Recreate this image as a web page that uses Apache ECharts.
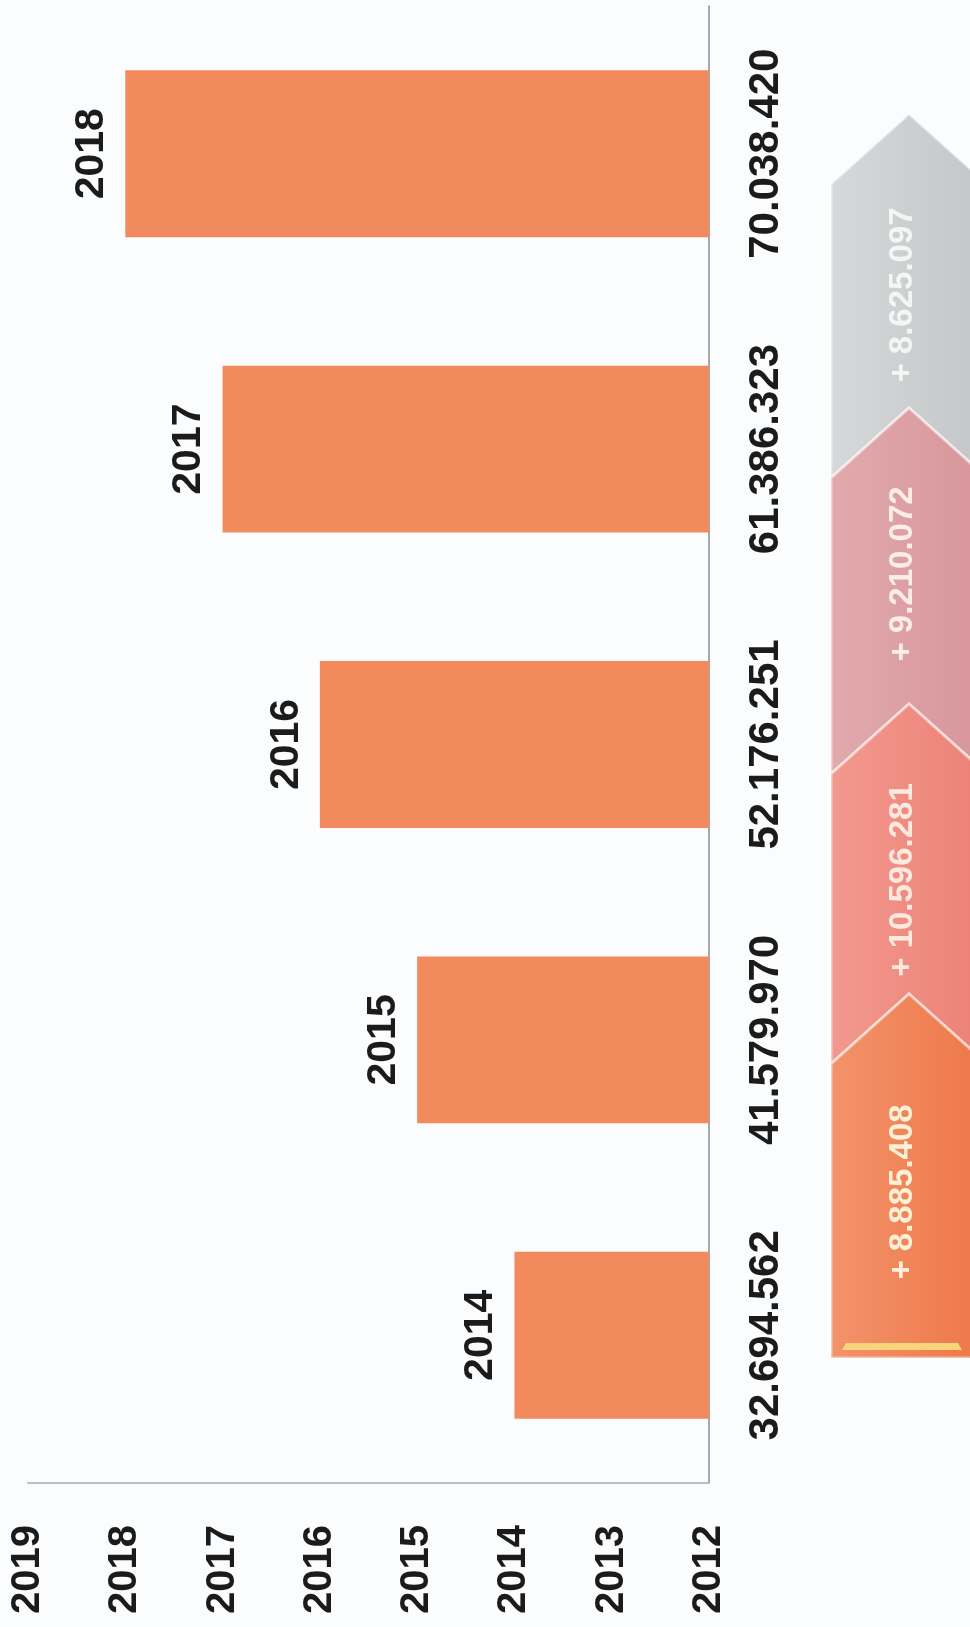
<!DOCTYPE html>
<html>
<head>
<meta charset="utf-8">
<script src="https://cdn.jsdelivr.net/npm/echarts@6/dist/echarts.min.js"></script>
<style>
html,body{margin:0;padding:0;background:#fbfcfd;}
#c{width:970px;height:1627px;}
</style>
</head>
<body>
<div id="c"></div>
<script>
// ---- data ----
var categories = ['2014', '2015', '2016', '2017', '2018'];
var barValues = [2014, 2015, 2016, 2017, 2018];
var amounts = ['32.694.562', '41.579.970', '52.176.251', '61.386.323', '70.038.420'];
var axisTicks = [2012, 2013, 2014, 2015, 2016, 2017, 2018, 2019];
// increments shown in the chevrons, top to bottom
var increments = ['+ 8.625.097', '+ 9.210.072', '+ 10.596.281', '+ 8.885.408'];

var chart = echarts.init(document.getElementById('c'), null, {renderer: 'canvas'});

// ---- chevrons (decoration) ----
var cx = 909, hw = 78, d = 70;
var tips = [114, 408, 704, 994];
var bottomY = 1358;
var fills = [
  ['#d6d8d9', '#c3c5c7'],
  ['#e2aaad', '#d6959a'],
  ['#f3998f', '#ec8075'],
  ['#f3936c', '#ee7646']
];
var textCols = ['#f4f6f6', '#fbeee6', '#fde9de', '#fff0d6'];
var textY = [295, 574, 880, 1192];
var graphics = [];
for (var i = 0; i < tips.length; i++) {
  var t = tips[i];
  var pts;
  if (i < tips.length - 1) {
    var n = tips[i + 1];
    pts = [[cx, t], [cx + hw, t + d], [cx + hw, n + d], [cx, n], [cx - hw, n + d], [cx - hw, t + d]];
  } else {
    pts = [[cx, t], [cx + hw, t + d], [cx + hw, bottomY], [cx - hw, bottomY], [cx - hw, t + d]];
  }
  graphics.push({
    type: 'polygon', z: 10,
    shape: {points: pts},
    style: {
      fill: new echarts.graphic.LinearGradient(0, 0, 1, 0, [
        {offset: 0, color: fills[i][0]}, {offset: 1, color: fills[i][1]}
      ]),
      stroke: 'rgba(255,255,255,0.5)', lineWidth: 3
    }
  });
  graphics.push({
    type: 'text', z: 12,
    x: 903, y: textY[i], rotation: Math.PI / 2,
    style: {
      text: increments[i], fill: textCols[i],
      font: 'bold 33px "Liberation Sans", Arial, sans-serif',
      align: 'center', verticalAlign: 'middle'
    }
  });
}
graphics.push({
  type: 'polygon', z: 13,
  shape: {points: [[846, 1343], [958, 1343], [962, 1350], [842, 1350]]},
  style: {fill: '#f8d47a'}
});

var option = {
  backgroundColor: '#fbfcfd',
  animation: false,
  grid: {left: 28, right: 261, top: 6, bottom: 144, containLabel: false},
  xAxis: {
    type: 'value', inverse: true, min: 2012, max: 2019, interval: 1,
    axisLine: {show: true, lineStyle: {color: '#bdbdbd', width: 2}},
    axisTick: {show: false},
    splitLine: {show: false},
    axisLabel: {
      rotate: 90, margin: 42, color: '#1b1b1b',
      fontSize: 40, fontWeight: 'bold', fontFamily: '"Liberation Sans", Arial, sans-serif',
      formatter: function (v) { return axisTicks.indexOf(v) >= 0 ? String(v) : ''; }
    }
  },
  yAxis: {
    type: 'category', data: categories, position: 'right',
    axisLine: {show: true, onZero: false, lineStyle: {color: '#8c8c8c', width: 1.5}},
    axisTick: {show: false},
    axisLabel: {
      rotate: 90, margin: 36, color: '#1b1b1b',
      fontSize: 42, fontWeight: 'bold', fontFamily: '"Liberation Sans", Arial, sans-serif',
      formatter: function (v, idx) { return amounts[idx]; }
    }
  },
  series: [{
    type: 'bar',
    data: barValues,
    barWidth: '56.5%',
    itemStyle: {color: '#f38a5e'},
    label: {
      show: true, position: 'left', distance: 13,
      rotate: 90, align: 'center', verticalAlign: 'bottom',
      color: '#1b1b1b', fontSize: 41, fontWeight: 'bold',
      fontFamily: '"Liberation Sans", Arial, sans-serif',
      formatter: function (p) { return categories[p.dataIndex]; }
    }
  }],
  graphic: graphics
};
chart.setOption(option);
</script>
</body>
</html>
